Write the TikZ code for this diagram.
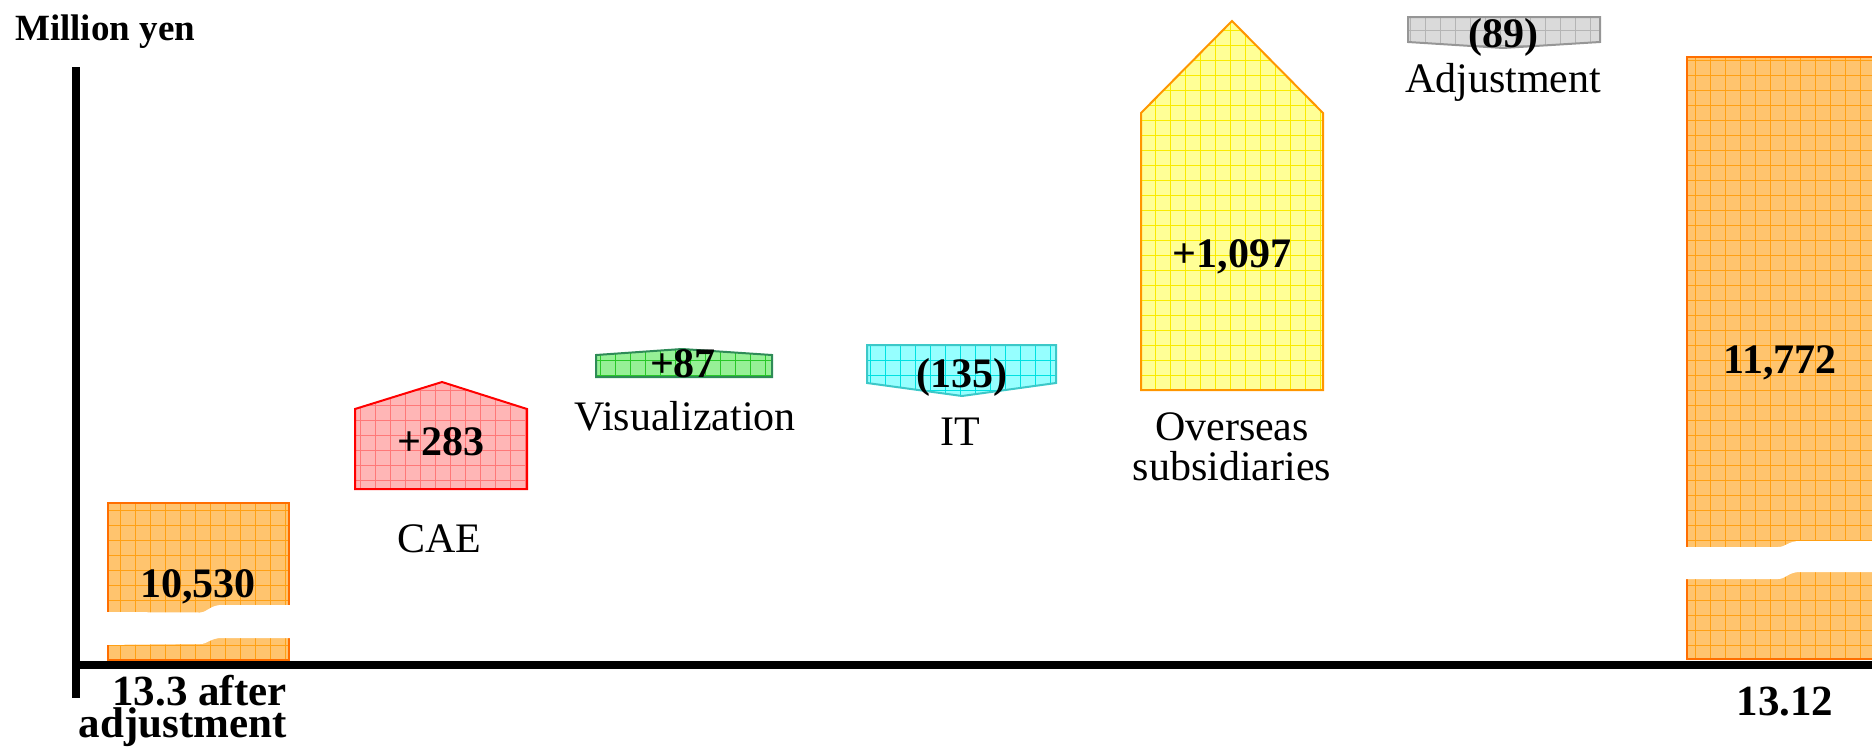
\documentclass[tikz,border=0pt]{standalone}
\usepackage{fontspec}
\setmainfont{Liberation Serif}
\usetikzlibrary{calc}
\definecolor{orfill}{RGB}{255,196,110}
\definecolor{orgrid}{RGB}{255,160,20}
\definecolor{oredge}{RGB}{255,110,0}
\definecolor{rdfill}{RGB}{255,182,182}
\definecolor{rdgrid}{RGB}{255,120,120}
\definecolor{gnfill}{RGB}{150,240,150}
\definecolor{gngrid}{RGB}{40,200,40}
\definecolor{gnedge}{RGB}{46,139,87}
\definecolor{cyfill}{RGB}{150,255,255}
\definecolor{cygrid}{RGB}{0,225,225}
\definecolor{cyedge}{RGB}{60,200,200}
\definecolor{ylfill}{RGB}{255,255,150}
\definecolor{ylgrid}{RGB}{250,235,0}
\definecolor{yledge}{RGB}{255,150,0}
\definecolor{gyfill}{RGB}{218,218,218}
\definecolor{gygrid}{RGB}{180,180,180}
\definecolor{gyedge}{RGB}{150,150,150}

% filled patch with a 15px grid inside
\newcommand{\gridpatch}[4]{%
  \begin{scope}
    \clip #4;
    \fill[#1] (0,0) rectangle (1890,747);
    \draw[#2, line width=0.8pt, step=15pt] (0,0) grid (1890,747);
  \end{scope}
  \draw[#3, line width=2pt, line join=miter] #4;
}

\begin{document}
\begin{tikzpicture}[
  x=1pt, y=-1pt,
  num/.style={font=\fontsize{42}{46}\selectfont\bfseries, anchor=base, inner sep=0pt},
  cat/.style={font=\fontsize{42}{40}\selectfont, anchor=base, inner sep=0pt, align=center},
  datelbl/.style={font=\fontsize{43}{32}\selectfont\bfseries, anchor=base, inner sep=0pt, align=center},
  axis/.style={line width=8pt, black}
]
  \useasboundingbox (0,0) rectangle (1872,747);

  % bars
  \gridpatch{orfill}{orgrid}{oredge}{(108,503) rectangle (289,660)}
  \gridpatch{rdfill}{rdgrid}{red}{(355,489) -- (355,409) -- (442,382) -- (527,409) -- (527,489) -- cycle}
  \gridpatch{gnfill}{gngrid}{gnedge}{(596,377) -- (596,355) -- (682,349) -- (772,355) -- (772,377) -- cycle}
  \gridpatch{cyfill}{cygrid}{cyedge}{(867,345) -- (1056,345) -- (1056,383) -- (962,396) -- (867,383) -- cycle}
  \gridpatch{ylfill}{ylgrid}{yledge}{(1141,390) -- (1141,113) -- (1232,21) -- (1323,113) -- (1323,390) -- cycle}
  \gridpatch{gyfill}{gygrid}{gyedge}{(1408,17) -- (1600,17) -- (1600,42) -- (1503,48) -- (1408,42) -- cycle}
  \gridpatch{orfill}{orgrid}{oredge}{(1687,57) rectangle (1890,659)}

  % axis breaks
  \fill[white] (98,612) -- (200,612.5) .. controls (208,612) and (210,605) .. (222,605) -- (298,605)
    -- (298,638) -- (222,638) .. controls (210,638) and (208,644) .. (200,644) -- (98,645) -- cycle;
  \fill[white] (1678,547) -- (1778,547) .. controls (1786,547) and (1788,541) .. (1800,541) -- (1890,541)
    -- (1890,572) -- (1800,572) .. controls (1788,572) and (1786,579) .. (1778,579) -- (1678,579) -- cycle;

  % axes
  \coordinate (ytop) at (75.5,67);
  \coordinate (ybot) at (75.5,698);
  \coordinate (xleft) at (72,665);
  \coordinate (xright) at (1872,665);
  \draw[axis] (ytop) -- (ybot);
  \draw[axis] (xleft) -- (xright);

  % labels
  \node[font=\fontsize{37}{40}\selectfont\bfseries, anchor=base west, inner sep=0pt] (unit) at (15,40) {Million yen};
  \node[num] (vstart) at (198,597) {10,530};
  \node[num] (vcae) at (441,455) {+283};
  \node[cat] (lcae) at (439,552) {CAE};
  \node[num] (vvis) at (683,377) {+87};
  \node[cat] (lvis) at (685,430) {Visualization};
  \node[num] (vit) at (962,387) {(135)};
  \node[cat] (lit) at (960,445) {IT};
  \node[num] (vovs) at (1232,267) {+1,097};
  \node[cat] (lovs) at (1232,480) {Overseas\\subsidiaries};
  \node[num] (vadj) at (1503,47) {(89)};
  \node[cat] (ladj) at (1503,92) {Adjustment};
  \node[num] (vend) at (1780,373) {11,772};
  \node[datelbl, align=right, anchor=base east] (dstart) at (287,737) {13.3 after\\adjustment};
  \node[datelbl] (dend) at (1785,715) {13.12};
\end{tikzpicture}
\end{document}
